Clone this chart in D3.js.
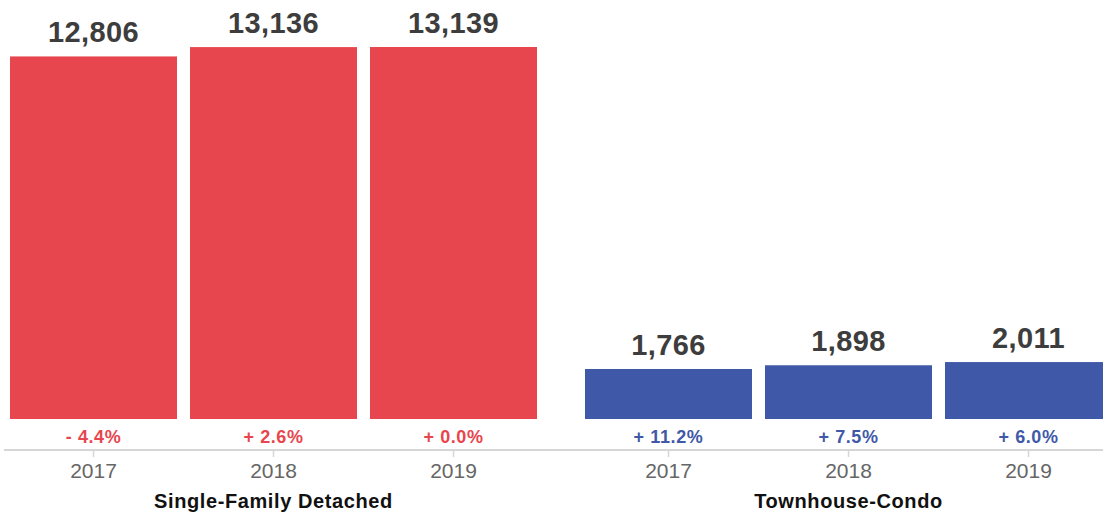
<!DOCTYPE html>
<html>
<head>
<meta charset="utf-8">
<script src="https://cdn.jsdelivr.net/npm/d3@7"></script>
<style>
  html, body { margin: 0; padding: 0; background: #fff; }
  svg { display: block; font-family: "Liberation Sans", Arial, Helvetica, sans-serif; }
</style>
</head>
<body>
<svg id="chart" width="1103" height="516"></svg>
<script>
const groups = ["Single-Family Detached", "Townhouse-Condo"];
const years = ["2017", "2018", "2019"];
const singleFamilyValues = [12806, 13136, 13139];
const townhouseValues = [1766, 1898, 2011];
const singleFamilyChange = [-4.4, 2.6, 0.0];
const townhouseChange = [11.2, 7.5, 6.0];
const groupColors = ["#e8464e", "#3f59a8"];

const data = [];
groups.forEach((g, gi) => {
  const vals = gi === 0 ? singleFamilyValues : townhouseValues;
  const chg = gi === 0 ? singleFamilyChange : townhouseChange;
  years.forEach((y, yi) => data.push({ group: g, gi, year: y, value: vals[yi], change: chg[yi] }));
});

const svg = d3.select("#chart");
const baseY = 419, axisY = 450;

const xGroup = d3.scaleBand().domain(groups).range([10, 1112]).paddingInner(48 / 575).paddingOuter(0);
const xYear = d3.scaleBand().domain(years).range([0, xGroup.bandwidth()]).paddingInner(13 / 180).paddingOuter(0);
const y = d3.scaleLinear().domain([0, 13139]).range([baseY, 47]);

const fmt = d3.format(",");
const fmtChange = v => (v < 0 ? "- " : "+ ") + Math.abs(v).toFixed(1) + "%";

// bars
svg.append("g").selectAll("rect").data(data).join("rect")
  .attr("x", d => xGroup(d.group) + xYear(d.year))
  .attr("y", d => y(d.value))
  .attr("width", xYear.bandwidth())
  .attr("height", d => y(0) - y(d.value))
  .attr("fill", d => groupColors[d.gi]);

// value labels
svg.append("g").selectAll("text").data(data).join("text")
  .attr("x", d => xGroup(d.group) + xYear(d.year) + xYear.bandwidth() / 2)
  .attr("y", d => y(d.value) - 14)
  .attr("text-anchor", "middle")
  .attr("font-size", 29)
  .attr("font-weight", "bold")
  .attr("fill", "#3d3d3d")
  .attr("letter-spacing", 0.4)
  .text(d => fmt(d.value));

// change labels
svg.append("g").selectAll("text").data(data).join("text")
  .attr("x", d => xGroup(d.group) + xYear(d.year) + xYear.bandwidth() / 2)
  .attr("y", 443)
  .attr("text-anchor", "middle")
  .attr("font-size", 18)
  .attr("font-weight", "bold")
  .attr("letter-spacing", 0.6)
  .attr("fill", d => groupColors[d.gi])
  .text(d => fmtChange(d.change));

// axis line
svg.append("line")
  .attr("x1", 4).attr("x2", 1103)
  .attr("y1", axisY).attr("y2", axisY)
  .attr("stroke", "#d6d6d6").attr("stroke-width", 2);

// per-group axes with year ticks
groups.forEach(g => {
  const sub = d3.scaleBand().domain(years)
    .range([xGroup(g), xGroup(g) + xGroup.bandwidth()])
    .paddingInner(13 / 180).paddingOuter(0);
  const ax = d3.axisBottom(sub).tickSize(6).tickPadding(8);
  const ag = svg.append("g").attr("transform", `translate(0,${axisY + 1})`).call(ax);
  ag.select(".domain").remove();
  ag.selectAll(".tick line").attr("stroke", "#d6d6d6").attr("stroke-width", 1.5);
  ag.selectAll(".tick text")
    .attr("font-size", 21)
    .attr("font-family", "Liberation Sans, Arial, sans-serif")
    .attr("fill", "#666")
    .attr("dy", null)
    .attr("y", 27);
});

// group labels
svg.append("g").selectAll("text").data(groups).join("text")
  .attr("x", g => xGroup(g) + xGroup.bandwidth() / 2)
  .attr("y", 508)
  .attr("text-anchor", "middle")
  .attr("font-size", 20)
  .attr("font-weight", "bold")
  .attr("letter-spacing", 0.6)
  .attr("fill", "#111")
  .text(g => g);
</script>
</body>
</html>
